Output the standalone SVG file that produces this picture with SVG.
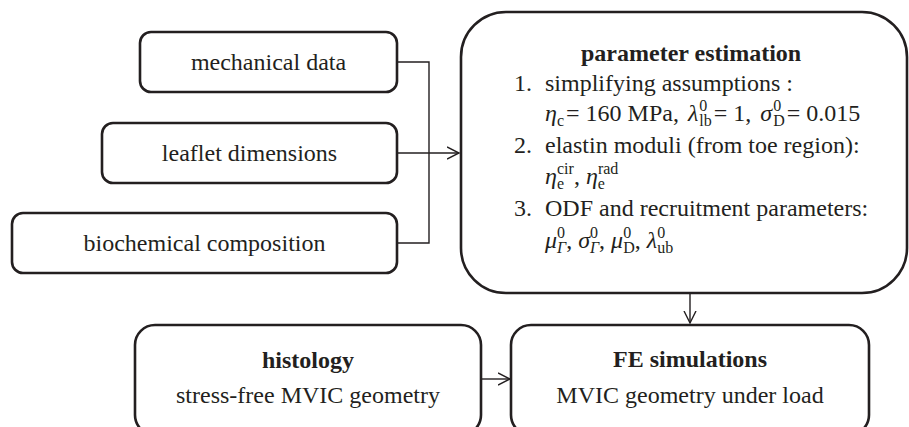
<svg xmlns="http://www.w3.org/2000/svg" width="909" height="427" viewBox="0 0 909 427">
<defs>
<style>
.box{fill:#fff;stroke:#231f20;stroke-width:2.6}
.con{fill:none;stroke:#231f20;stroke-width:1.4}
text{font-family:"Liberation Serif","Times New Roman",serif;font-size:24px;fill:#231f20}
.c{text-anchor:middle}
.b{font-weight:bold}
.i{font-style:italic}
.s{font-size:16px}
</style>
<marker id="arr" markerWidth="14" markerHeight="14" refX="12" refY="7" orient="auto" markerUnits="userSpaceOnUse">
<path d="M0,1 L12,7 L0,13" fill="none" stroke="#231f20" stroke-width="1.4"/>
</marker>
</defs>
<rect width="909" height="427" fill="#fff"/>
<g id="connectors">
<path class="con" d="M397,62 H429 V243 H397"/>
<path class="con" d="M397,153 H459" marker-end="url(#arr)"/>
<path class="con" d="M690,293 V323" marker-end="url(#arr)"/>
<path class="con" d="M481,379 H510" marker-end="url(#arr)"/>
</g>
<g id="mechanical-data">
<rect class="box" x="140" y="32" width="257" height="60" rx="11"/>
<text class="c" x="268.5" y="70">mechanical data</text>
</g>
<g id="leaflet-dimensions">
<rect class="box" x="102" y="123" width="295" height="60" rx="11"/>
<text class="c" x="249.5" y="161">leaflet dimensions</text>
</g>
<g id="biochemical-composition">
<rect class="box" x="12" y="213" width="385" height="60" rx="11"/>
<text class="c" x="204.5" y="251">biochemical composition</text>
</g>
<g id="parameter-estimation">
<rect class="box" x="461" y="12" width="446" height="281" rx="45"/>
<text class="b" x="581" y="61">parameter estimation</text>
<text x="532" y="91" text-anchor="end">1.</text>
<text x="545" y="91">simplifying assumptions :</text>
<text x="545" y="121"><tspan class="i">η</tspan><tspan class="s" dy="5">c</tspan><tspan dx="2" dy="-5">= 160 MPa, </tspan><tspan class="i" dx="3">λ</tspan><tspan class="s" dx="1" dy="-10">0</tspan><tspan class="s" dx="-8" dy="15">lb</tspan><tspan dx="2" dy="-5">= 1, </tspan><tspan class="i" dx="3">σ</tspan><tspan class="s" dx="1" dy="-10">0</tspan><tspan class="s" dx="-8" dy="15">D</tspan><tspan dx="2" dy="-5">= 0.015</tspan></text>
<text x="532" y="153" text-anchor="end">2.</text>
<text x="545" y="153">elastin moduli (from toe region):</text>
<text x="545" y="184"><tspan class="i">η</tspan><tspan class="s" dy="5">e</tspan><tspan class="s" dx="-7" dy="-15">cir</tspan><tspan dy="10">, </tspan><tspan class="i">η</tspan><tspan class="s" dy="5">e</tspan><tspan class="s" dx="-7" dy="-15">rad</tspan></text>
<text x="532" y="216" text-anchor="end">3.</text>
<text x="545" y="216">ODF and recruitment parameters:</text>
<text x="545" y="248"><tspan class="i">μ</tspan><tspan class="s" dy="-10">0</tspan><tspan class="s i" dx="-8" dy="15">Γ</tspan><tspan dy="-5">, </tspan><tspan class="i">σ</tspan><tspan class="s" dy="-10">0</tspan><tspan class="s i" dx="-8" dy="15">Γ</tspan><tspan dy="-5">, </tspan><tspan class="i">μ</tspan><tspan class="s" dy="-10">0</tspan><tspan class="s" dx="-8" dy="15">D</tspan><tspan dy="-5">, </tspan><tspan class="i">λ</tspan><tspan class="s" dy="-10">0</tspan><tspan class="s" dx="-8" dy="15">ub</tspan></text>
</g>
<g id="histology">
<rect class="box" x="135" y="325" width="346" height="110" rx="20"/>
<text class="c b" x="308" y="368">histology</text>
<text class="c" x="308" y="403">stress-free MVIC geometry</text>
</g>
<g id="fe-simulations">
<rect class="box" x="511" y="325" width="358" height="110" rx="20"/>
<text class="c b" x="690" y="367">FE simulations</text>
<text class="c" x="690" y="403">MVIC geometry under load</text>
</g>
</svg>
